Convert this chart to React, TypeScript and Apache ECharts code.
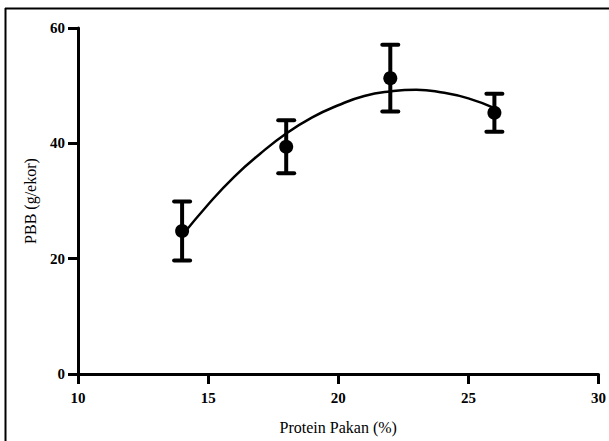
import React, { useEffect, useRef } from "react";
import * as echarts from "echarts";

const protein = [14, 18, 22, 26];
const pbbMean = [24.8, 39.4, 51.3, 45.3];
const pbbErr = [5.1, 4.6, 5.8, 3.3];

const curveX = [14, 15, 16, 17, 18, 19, 20, 21, 22, 23, 24, 25, 26];
const curveY = [24.0, 29.4, 34.2, 38.2, 41.7, 44.5, 46.6, 48.2, 49.0, 49.3, 48.8, 47.8, 46.1];

const xTicks = [10, 15, 20, 25, 30];
const yTicks = [0, 20, 40, 60];

export default function App() {
  const ref = useRef<HTMLDivElement>(null);
  useEffect(() => {
    document.body.style.margin = "0";
    const chart = echarts.init(ref.current!, undefined, { renderer: "svg" });
    const serif = "'Liberation Serif', 'Times New Roman', serif";
    const axisCommon = {
      axisLine: { lineStyle: { color: "#000", width: 3 } },
      axisTick: { inside: false, length: 10, lineStyle: { color: "#000", width: 3 } },
      splitLine: { show: false },
      axisLabel: { color: "#000", fontFamily: serif, fontWeight: "bold", fontSize: 15 },
      nameTextStyle: { color: "#000", fontFamily: serif, fontSize: 16 },
    };
    const errData = protein.map((x, i) => [x, pbbMean[i] - pbbErr[i], pbbMean[i] + pbbErr[i]]);
    chart.setOption({
      animation: false,
      backgroundColor: "#fff",
      grid: { left: 78, right: 9, top: 28, bottom: 67 },
      xAxis: {
        type: "value",
        min: xTicks[0],
        max: xTicks[xTicks.length - 1],
        interval: 5,
        name: "Protein Pakan (%)",
        nameLocation: "middle",
        nameGap: 45,
        ...axisCommon,
        axisLabel: { ...axisCommon.axisLabel, margin: 16 },
      },
      yAxis: {
        type: "value",
        min: yTicks[0],
        max: yTicks[yTicks.length - 1],
        interval: 20,
        name: "PBB (g/ekor)",
        nameLocation: "middle",
        nameGap: 40,
        ...axisCommon,
        axisLabel: { ...axisCommon.axisLabel, margin: 13 },
      },
      graphic: [
        { type: "line", shape: { x1: 5, y1: 8.5, x2: 609, y2: 8.5 }, style: { stroke: "#000", lineWidth: 2 } },
        { type: "line", shape: { x1: 5.5, y1: 8, x2: 5.5, y2: 441 }, style: { stroke: "#000", lineWidth: 2 } },
      ],
      series: [
        {
          type: "line",
          data: curveX.map((x, i) => [x, curveY[i]]),
          smooth: true,
          showSymbol: false,
          lineStyle: { color: "#000", width: 2.5 },
          z: 2,
        },
        {
          type: "custom",
          data: errData,
          renderItem: (params: any, api: any) => {
            const x = api.value(0);
            const lo = api.coord([x, api.value(1)]);
            const hi = api.coord([x, api.value(2)]);
            const hw = 8;
            const st = { stroke: "#000", lineWidth: 4, lineCap: "round" };
            return {
              type: "group",
              children: [
                { type: "line", shape: { x1: hi[0], y1: hi[1], x2: lo[0], y2: lo[1] }, style: { stroke: "#000", lineWidth: 4 } },
                { type: "line", shape: { x1: hi[0] - hw, y1: hi[1], x2: hi[0] + hw, y2: hi[1] }, style: st },
                { type: "line", shape: { x1: lo[0] - hw, y1: lo[1], x2: lo[0] + hw, y2: lo[1] }, style: st },
              ],
            };
          },
          z: 3,
        },
        {
          type: "scatter",
          data: protein.map((x, i) => [x, pbbMean[i]]),
          symbol: "circle",
          symbolSize: 14,
          itemStyle: { color: "#000", opacity: 1 },
          z: 4,
        },
      ],
    });
    return () => chart.dispose();
  }, []);
  return <div ref={ref} style={{ width: 609, height: 441 }} />;
}
